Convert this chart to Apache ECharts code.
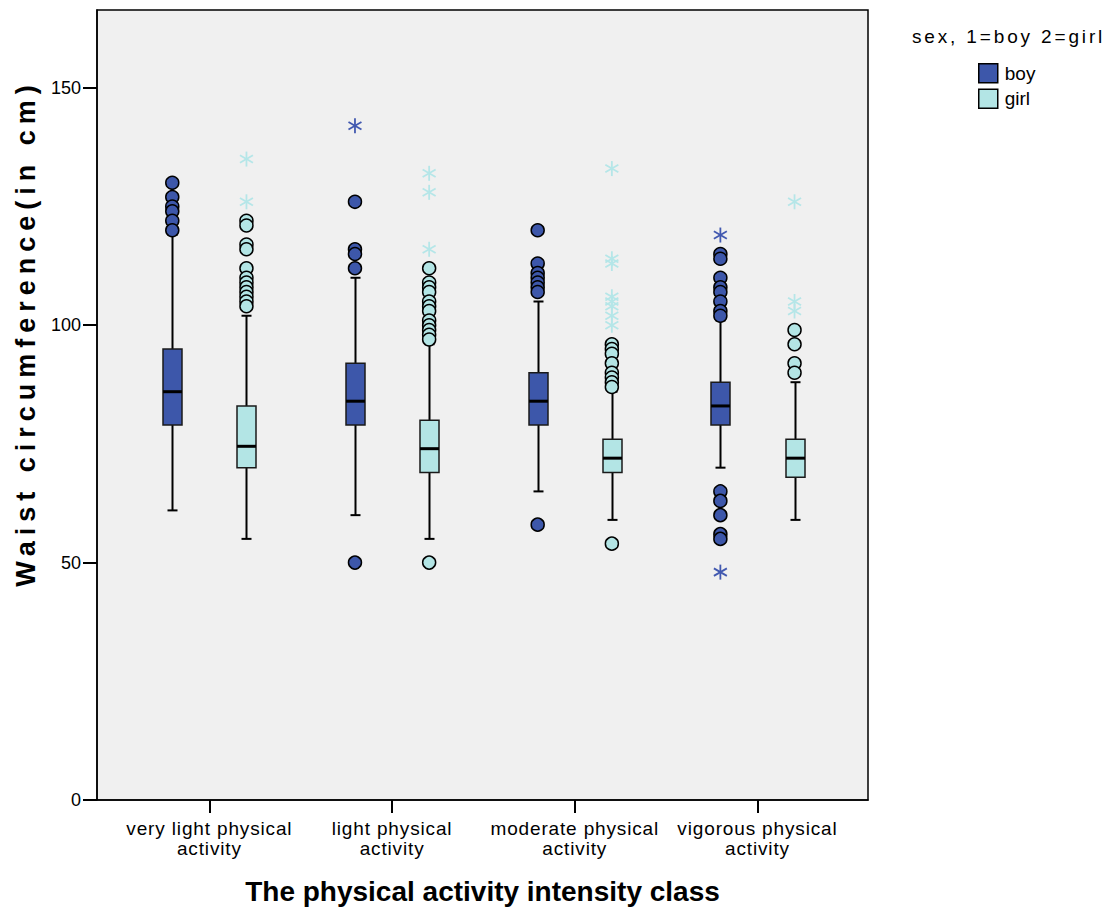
<!DOCTYPE html>
<html>
<head>
<meta charset="utf-8">
<script src="https://cdn.jsdelivr.net/npm/echarts@6/dist/echarts.min.js"></script>
<style>
  html, body { margin: 0; padding: 0; background: #ffffff; }
  #chart { width: 1117px; height: 913px; }
</style>
</head>
<body>
<div id="chart"></div>
<script>
// Waist circumference by physical activity intensity class and sex

const categories = [
  'very light physical activity',
  'light physical activity',
  'moderate physical activity',
  'vigorous physical activity'
];
const sexNames = ['boy', 'girl'];
const legendTitle = 'sex, 1=boy 2=girl';
const xTitle = 'The physical activity intensity class';
const yTitle = 'Waist circumference(in cm)';
const yTicks = [0, 50, 100, 150];

// Five-number summaries per class: [lower whisker, Q1, median, Q3, upper whisker]
const boyBox = [
  [61, 79, 86, 95, 119],
  [60, 79, 84, 92, 110],
  [65, 79, 84, 90, 105],
  [70, 79, 83, 88, 101]
];
const girlBox = [
  [55, 70, 74.5, 83, 102],
  [55, 69, 74, 80, 96],
  [59, 69, 72, 76, 86],
  [59, 68, 72, 76, 88]
];

// Outliers (circles) per class
const boyOutliers = [
  [130, 127, 125, 124, 122, 120],
  [126, 116, 115, 112, 50],
  [120, 113, 111, 110, 109, 108, 107, 58],
  [115, 114, 110, 108, 107, 105, 103, 102, 65, 63, 60, 56, 55]
];
const girlOutliers = [
  [122, 121, 117, 116, 112, 110, 109, 108, 107, 106, 105, 104],
  [112, 109, 108, 107, 105, 104, 103, 101, 100, 99, 98, 97, 50],
  [96, 95, 94, 92, 90, 89, 88, 87, 54],
  [99, 96, 92, 90]
];

// Extreme values (asterisks) per class
const boyExtremes = [
  [],
  [142],
  [],
  [119, 48]
];
const girlExtremes = [
  [135, 126],
  [132, 128, 116],
  [133, 114, 113, 106, 105, 104, 102, 100],
  [126, 105, 103]
];

// ---- styling / layout ----
const FONT = 'Arial, Liberation Sans, sans-serif';
const fills = { boy: '#3d57aa', girl: '#b3e5e5' };
const starColors = { boy: '#4259b0', girl: '#b5e6e8' };
const sideOffset = { boy: -0.203, girl: 0.203 };
const BOX_HALF = 9.5;
const CAP_HALF = 5;

function wrapLabel(name) {
  return name.replace(/ activity$/, '\nactivity');
}

function boxSeries(name, stats) {
  return {
    name: name,
    type: 'custom',
    z: 2,
    itemStyle: { color: fills[name], borderColor: '#000', borderWidth: 1.5 },
    dimensions: ['x', 'low', 'q1', 'med', 'q3', 'high'],
    encode: { x: 0, y: [1, 2, 3, 4, 5] },
    data: stats.map((s, i) => [i + sideOffset[name]].concat(s)),
    renderItem: function (params, api) {
      const x = api.value(0);
      const p = [1, 2, 3, 4, 5].map(d => api.coord([x, api.value(d)]));
      const cx = Math.round(p[0][0]) + 0.5;
      const line = (x1, y1, x2, y2, w) => ({
        type: 'line',
        shape: { x1: x1, y1: y1, x2: x2, y2: y2 },
        style: { stroke: '#000', lineWidth: w }
      });
      return {
        type: 'group',
        children: [
          line(cx, p[1][1], cx, p[0][1], 2),
          line(cx - CAP_HALF, p[0][1], cx + CAP_HALF, p[0][1], 2),
          line(cx, p[3][1], cx, p[4][1], 2),
          line(cx - CAP_HALF, p[4][1], cx + CAP_HALF, p[4][1], 2),
          {
            type: 'rect',
            shape: { x: cx - BOX_HALF, y: p[3][1], width: BOX_HALF * 2, height: p[1][1] - p[3][1] },
            style: { fill: fills[name], stroke: '#1a1a1a', lineWidth: 1.5 }
          },
          line(cx - BOX_HALF, p[2][1], cx + BOX_HALF, p[2][1], 3)
        ]
      };
    }
  };
}

function outlierSeries(name, lists) {
  const data = [];
  lists.forEach((vals, i) => vals.forEach(v => data.push([i + sideOffset[name], v])));
  return {
    name: name,
    type: 'scatter',
    z: 3,
    symbol: 'circle',
    symbolSize: 13,
    itemStyle: { color: fills[name], borderColor: '#000', borderWidth: 1.5, opacity: 1 },
    emphasis: { disabled: true },
    data: data
  };
}

function extremeSeries(name, lists) {
  const data = [];
  lists.forEach((vals, i) => vals.forEach(v => data.push([i + sideOffset[name], v])));
  return {
    name: name,
    type: 'custom',
    z: 3,
    encode: { x: 0, y: 1 },
    data: data,
    renderItem: function (params, api) {
      const c = api.coord([api.value(0), api.value(1)]);
      const r = 7.5;
      const arms = [90, 30, -30].map(deg => {
        const a = deg * Math.PI / 180;
        const dx = r * Math.cos(a), dy = r * Math.sin(a);
        return {
          type: 'line',
          shape: { x1: c[0] - dx, y1: c[1] - dy, x2: c[0] + dx, y2: c[1] + dy },
          style: { stroke: starColors[name], lineWidth: 1.8 }
        };
      });
      return { type: 'group', children: arms };
    }
  };
}

const chart = echarts.init(document.getElementById('chart'), null, { renderer: 'svg' });

chart.setOption({
  backgroundColor: '#ffffff',
  animation: false,
  textStyle: { fontFamily: FONT },
  grid: {
    left: 97, right: 249, top: 10, bottom: 113,
    show: true, backgroundColor: '#f0f0f0', borderColor: '#000', borderWidth: 1.5
  },
  xAxis: {
    type: 'value',
    min: -0.615,
    max: 3.605,
    splitLine: { show: false },
    axisLine: { show: true, onZero: false, lineStyle: { color: '#000', width: 1.5 } },
    axisTick: { show: true, length: 13, customValues: categories.map((c, i) => i), lineStyle: { color: '#000', width: 2 } },
    axisLabel: {
      customValues: categories.map((c, i) => i),
      formatter: v => wrapLabel(categories[Math.round(v)]),
      margin: 18,
      color: '#000',
      fontSize: 19,
      lineHeight: 20,
      fontFamily: FONT
    },
    name: xTitle,
    nameLocation: 'middle',
    nameGap: 77,
    nameTextStyle: { color: '#000', fontSize: 28, fontWeight: 'bold', fontFamily: FONT }
  },
  yAxis: {
    type: 'value',
    min: 0,
    max: 166.4,
    splitLine: { show: false },
    axisLine: { show: true, onZero: false, lineStyle: { color: '#000', width: 1.5 } },
    axisTick: { show: true, length: 14, customValues: yTicks, lineStyle: { color: '#000', width: 2 } },
    axisLabel: {
      customValues: yTicks,
      margin: 16,
      color: '#000',
      fontSize: 18,
      fontFamily: FONT
    }
  },
  legend: {
    show: true,
    orient: 'vertical',
    left: 978,
    top: 63,
    padding: 0,
    itemGap: 5,
    itemWidth: 19,
    itemHeight: 19,
    selectedMode: false,
    textStyle: { color: '#000', fontSize: 19, lineHeight: 19, fontFamily: FONT, padding: [0, 0, 0, 2] },
    data: sexNames.map(n => ({
      name: n,
      icon: 'rect',
      itemStyle: { color: fills[n], borderColor: '#000', borderWidth: 1.5 }
    }))
  },
  graphic: [
    {
      type: 'text',
      left: 912,
      top: 27,
      style: { text: legendTitle, fill: '#000', font: '19px ' + FONT }
    },
    {
      type: 'text',
      x: 26,
      y: 333,
      rotation: Math.PI / 2,
      style: {
        text: yTitle,
        fill: '#000',
        font: 'bold 27px ' + FONT,
        align: 'center',
        verticalAlign: 'middle'
      }
    }
  ],
  series: [
    boxSeries('boy', boyBox),
    boxSeries('girl', girlBox),
    outlierSeries('boy', boyOutliers),
    outlierSeries('girl', girlOutliers),
    extremeSeries('boy', boyExtremes),
    extremeSeries('girl', girlExtremes)
  ]
});

// Looser tracking for the category labels, the legend heading and the value-axis title
const tracking = { [legendTitle]: 2.85, [yTitle]: 6 };
categories.forEach(c => wrapLabel(c).split('\n').forEach(line => { tracking[line] = 0.85; }));
function applyTracking() {
  document.querySelectorAll('#chart svg text').forEach(t => {
    const s = tracking[t.textContent];
    if (s) t.setAttribute('letter-spacing', s + 'px');
  });
}
applyTracking();
chart.on('finished', applyTracking);
</script>
</body>
</html>
